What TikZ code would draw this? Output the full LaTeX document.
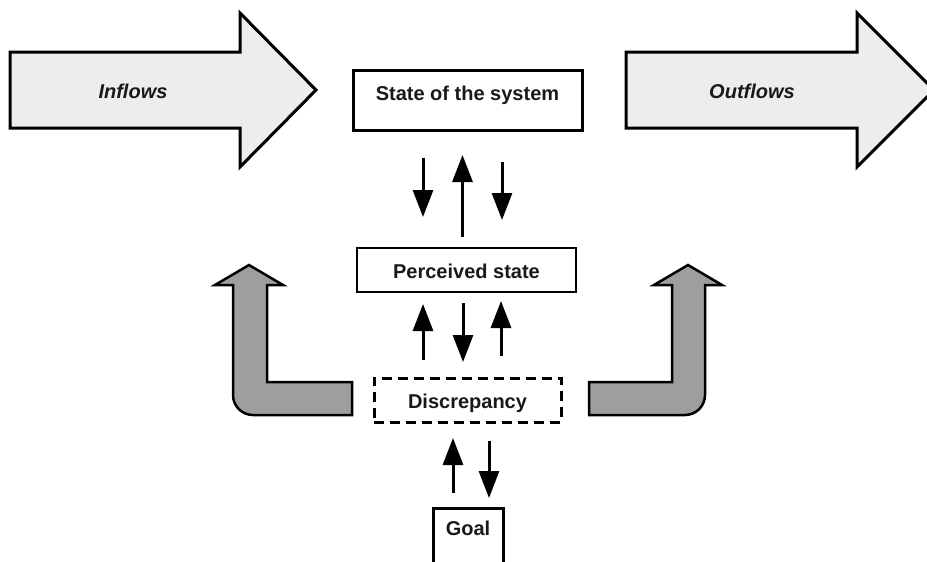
\documentclass[tikz,border=0pt]{standalone}
\usepackage{fontspec}
\setmainfont{Liberation Sans}
\usetikzlibrary{arrows.meta,calc}
\begin{document}
\begin{tikzpicture}[x=1pt,y=-1pt,
  box/.style={draw=black,fill=white,inner sep=0pt,outer sep=0pt,
    font=\fontsize{20}{24}\selectfont\bfseries,text=black!90},
  flow/.style={draw=black,line width=3pt,fill=black!7,line join=miter},
  loopflow/.style={draw=black,line width=2.5pt,fill=black!38,line join=miter},
  flowtext/.style={font=\fontsize{20}{24}\selectfont\bfseries\itshape,text=black!90},
  sig/.style={line width=3pt,-{Triangle[width=20pt,length=27pt]}}]
\useasboundingbox (0,0) rectangle (927,562);

% wide flow arrows
\draw[flow] (10,52) -- (240,52) -- (240,13) -- (316,90) -- (240,167) -- (240,128) -- (10,128) -- cycle;
\node[flowtext] (inflows) at (133,91) {Inflows};
\draw[flow] (626,52) -- (857,52) -- (857,13) -- (934,90) -- (857,167) -- (857,128) -- (626,128) -- cycle;
\node[flowtext] (outflows) at (752,91) {Outflows};

% bent feedback arrows
\draw[loopflow] (249,265) -- (283,285) -- (267,285) -- (267,382) -- (352,382) -- (352,415)
  -- (253,415) .. controls (241.95,415) and (233,406.05) .. (233,395) -- (233,285) -- (215,285) -- cycle;
\draw[loopflow] (688,265) -- (722,285) -- (705,285) -- (705,395)
  .. controls (705,406.05) and (696.05,415) .. (685,415) -- (589,415) -- (589,382) -- (672,382)
  -- (672,285) -- (654,285) -- cycle;

% boxes
\node[box,line width=3pt,minimum width=229pt,text height=30pt,text depth=30pt] (state) at (467.5,100) {State of the system};
\node[box,line width=2pt,minimum width=219pt,text height=30pt,text depth=14pt] (perc) at (466.5,270) {Perceived state};
\node[box,line width=3pt,dash pattern=on 10pt off 6pt,minimum width=187pt,text height=30pt,text depth=14pt] (disc) at (467.5,400) {Discrepancy};
\node[box,line width=3pt,minimum width=70pt,text height=27pt,text depth=45pt] (goal) at (468,544) {Goal};

% signals between state and perceived state
\draw[sig] ($(state.south)+(-44.5,28)$) -- ($(perc.north)+(-43.5,-31)$);
\draw[sig] ($(perc.north)+(-4,-11)$) -- ($(state.south)+(-5,25)$);
\draw[sig] ($(state.south)+(34.5,32)$) -- ($(perc.north)+(35.5,-28)$);

% signals between perceived state and discrepancy
\draw[sig] ($(disc.north)+(-44.5,-18)$) -- ($(perc.south)+(-43.5,12)$);
\draw[sig] ($(perc.south)+(-3.5,11)$) -- ($(disc.north)+(-4.5,-16)$);
\draw[sig] ($(disc.north)+(33.5,-22)$) -- ($(perc.south)+(34.5,9)$);

% signals between discrepancy and goal
\draw[sig] ($(goal.north)+(-15,-15)$) -- ($(disc.south)+(-14.5,16)$);
\draw[sig] ($(disc.south)+(21.5,19)$) -- ($(goal.north)+(21,-10)$);
\end{tikzpicture}
\end{document}
